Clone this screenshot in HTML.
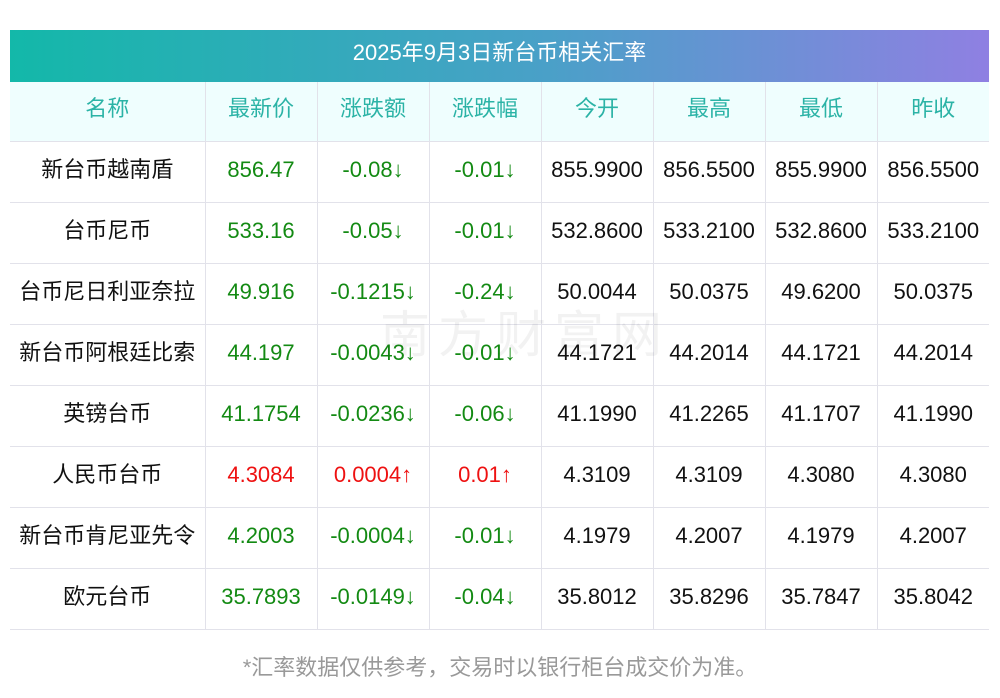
<!DOCTYPE html>
<html><head><meta charset="utf-8"><style>
body{margin:0;width:1000px;height:698px;background:#fff;font-family:"Liberation Sans","Noto Sans CJK SC",sans-serif;position:relative;overflow:hidden}
#title{position:absolute;left:10px;top:30px;width:979px;height:52px;background:linear-gradient(90deg,#13b8a9,#4aa0c8 55%,#8f80e2);color:#fff;font-size:22px;line-height:46px;text-align:center}
table{position:absolute;left:10px;top:82px;width:979px;border-collapse:collapse;table-layout:fixed}
td,th{border-right:1px solid #e2e2ea;border-bottom:1px solid #e2e2ea;text-align:center;font-size:22px;line-height:22px;font-weight:normal;height:56px;padding:0 0 4px 0;color:#111;white-space:nowrap}
td:last-child,th:last-child{border-right:none}
th{background:#effefe;color:#2bb3a6;padding-bottom:6px;height:53px}
.g{color:#138a13}.r{color:#ee1111}
#wm{position:absolute;left:380px;top:295px;font-size:50px;color:rgba(0,0,0,0.05);letter-spacing:8px}
#note{position:absolute;left:0;width:1000px;top:650px;text-align:center;color:#999;font-size:22px}
</style></head><body>
<div id="title">2025年9月3日新台币相关汇率</div>
<table>
<colgroup><col style="width:195px"><col style="width:112px"><col style="width:112px"><col style="width:112px"><col style="width:112px"><col style="width:112px"><col style="width:112px"><col style="width:112px"></colgroup>
<tr><th>名称</th><th>最新价</th><th>涨跌额</th><th>涨跌幅</th><th>今开</th><th>最高</th><th>最低</th><th>昨收</th></tr>
<tr><td>新台币越南盾</td><td class="g">856.47</td><td class="g">-0.08↓</td><td class="g">-0.01↓</td><td>855.9900</td><td>856.5500</td><td>855.9900</td><td>856.5500</td></tr>
<tr><td>台币尼币</td><td class="g">533.16</td><td class="g">-0.05↓</td><td class="g">-0.01↓</td><td>532.8600</td><td>533.2100</td><td>532.8600</td><td>533.2100</td></tr>
<tr><td>台币尼日利亚奈拉</td><td class="g">49.916</td><td class="g">-0.1215↓</td><td class="g">-0.24↓</td><td>50.0044</td><td>50.0375</td><td>49.6200</td><td>50.0375</td></tr>
<tr><td>新台币阿根廷比索</td><td class="g">44.197</td><td class="g">-0.0043↓</td><td class="g">-0.01↓</td><td>44.1721</td><td>44.2014</td><td>44.1721</td><td>44.2014</td></tr>
<tr><td>英镑台币</td><td class="g">41.1754</td><td class="g">-0.0236↓</td><td class="g">-0.06↓</td><td>41.1990</td><td>41.2265</td><td>41.1707</td><td>41.1990</td></tr>
<tr><td>人民币台币</td><td class="r">4.3084</td><td class="r">0.0004↑</td><td class="r">0.01↑</td><td>4.3109</td><td>4.3109</td><td>4.3080</td><td>4.3080</td></tr>
<tr><td>新台币肯尼亚先令</td><td class="g">4.2003</td><td class="g">-0.0004↓</td><td class="g">-0.01↓</td><td>4.1979</td><td>4.2007</td><td>4.1979</td><td>4.2007</td></tr>
<tr><td>欧元台币</td><td class="g">35.7893</td><td class="g">-0.0149↓</td><td class="g">-0.04↓</td><td>35.8012</td><td>35.8296</td><td>35.7847</td><td>35.8042</td></tr>
</table>
<div id="wm">南方财富网</div>
<div id="note">*汇率数据仅供参考，交易时以银行柜台成交价为准。</div>
</body></html>
